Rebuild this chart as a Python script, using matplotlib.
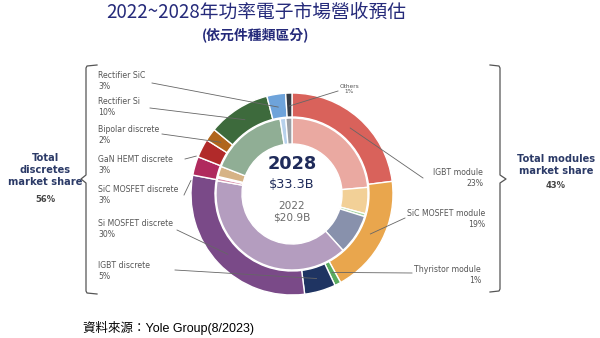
import numpy as np
import matplotlib.pyplot as plt

# 2028 shares (outer ring), clockwise from 12 o'clock
segments = ['IGBT module', 'SiC MOSFET module', 'Thyristor module', 'IGBT discrete',
            'Si MOSFET discrete', 'SiC MOSFET discrete', 'GaN HEMT discrete',
            'Bipolar discrete', 'Rectifier Si', 'Rectifier SiC', 'Others']
share_2028 = [23, 19, 1, 5, 30, 3, 3, 2, 10, 3, 1]
# 2022 shares (inner ring)
share_2022 = [23.6, 5.6, 0.6, 8.5, 39.5, 0.6, 0.3, 2.2, 16.6, 1.2, 1.3]

outer_colors = ['#d9625b', '#e9a64d', '#5aab5e', '#1f3462', '#7a4a88', '#b02a5e',
                '#b12a2a', '#b0661c', '#3d6a3c', '#6ea3da', '#363c44']
inner_colors = ['#eaa9a1', '#f2d097', '#a6d4a2', '#8891ac', '#b49dbf', '#d98ea9',
                '#e2a0a0', '#d6b386', '#90ae95', '#b7d1ec', '#9b9fa4']

total_2028 = '$33.3B'
total_2022 = '$20.9B'
discretes_total = '56%'
modules_total = '43%'

H = 338
cx, cy = 292, H - 194

fig = plt.figure(figsize=(6, 3.38), dpi=100)
ax = fig.add_axes([0, 0, 1, 1])

ax.pie(share_2028, radius=101, center=(cx, cy), startangle=90, counterclock=False,
       colors=outer_colors, wedgeprops=dict(width=24, edgecolor='white', linewidth=1))
ax.pie(share_2022, radius=76, center=(cx, cy), startangle=90, counterclock=False,
       colors=inner_colors, wedgeprops=dict(width=26, edgecolor='white', linewidth=1))

ax.set_xlim(0, 600)
ax.set_ylim(0, H)
ax.set_aspect('equal')
ax.set_axis_off()

# label: text x, y (px, top-down), alignment, line start, end radius, where in wedge (0..1)
labels = {
    'Rectifier SiC':       (98, 81, 'left', (152, 83), 88, 0.5),
    'Rectifier Si':        (98, 107, 'left', (150, 108), 88, 0.5),
    'Bipolar discrete':    (98, 135, 'left', (162, 134), 88, 0.5),
    'GaN HEMT discrete':   (98, 165, 'left', (185, 159), 103, 0.0),
    'SiC MOSFET discrete': (98, 195, 'left', (184, 195), 102, -0.3),
    'Si MOSFET discrete':  (98, 229, 'left', (177, 230), 88, 0.5),
    'IGBT discrete':       (98, 271, 'left', (175, 270), 88, 0.5),
    'IGBT module':         (483, 178, 'right', (423, 178), 88, 0.5),
    'SiC MOSFET module':   (485, 219, 'right', (405, 218), 88, 0.5),
    'Thyristor module':    (481, 275, 'right', (412, 273), 88, 0.5),
    'Others':              (349, 89, 'center', (338, 91), 88, 0.5),
}

starts = np.cumsum(share_2028) - np.array(share_2028)
lab_font = dict(fontsize=5.6, color='#555555', family='DejaVu Sans', linespacing=1.35)
for i, name in enumerate(segments):
    tx, ty, ha, (sx, sy), r, frac = labels[name]
    pos = starts[i] + frac * share_2028[i]
    theta = np.deg2rad(90 - 360 * pos / 100)
    if name == 'Others':
        ax.text(tx, H - ty, 'Others\n%d%%' % share_2028[i], ha=ha, va='center',
                fontsize=4.2, color='#555555', linespacing=1.2)
    else:
        ax.text(tx, H - ty, '%s\n%d%%' % (name, share_2028[i]), ha=ha, va='center', **lab_font)
    ex, ey = cx + r * np.cos(theta), cy + r * np.sin(theta)
    ax.plot([sx, ex], [H - sy, ey], color='#666666', lw=0.6)

# center text
ax.text(cx, H - 164, '2028', ha='center', va='center', fontsize=12.8,
        fontweight='bold', color='#1f2b5a')
ax.text(cx, H - 184, total_2028, ha='center', va='center', fontsize=9.3, color='#1f2b5a')
ax.text(cx, H - 206, '2022', ha='center', va='center', fontsize=7.6, color='#6b6b6b')
ax.text(cx, H - 218, total_2022, ha='center', va='center', fontsize=7.6, color='#6b6b6b')

# brackets
bx = [97, 87, 86, 86, 81, 86, 86, 87, 97]
by = [65, 66, 68, 175, 179, 183, 291, 293, 294]
ax.plot(bx, [H - v for v in by], color='#555555', lw=0.9)
rx = [490, 499, 500, 500, 506, 500, 500, 499, 490]
ry = [65, 66, 68, 175, 179, 183, 289, 291, 292]
ax.plot(rx, [H - v for v in ry], color='#555555', lw=0.9)

navy = '#2b3a67'
ax.text(45, H - 170, 'Total\ndiscretes\nmarket share', ha='center', va='center',
        fontsize=7.1, fontweight='bold', color=navy, linespacing=1.3)
ax.text(45, H - 199, discretes_total, ha='center', va='center', fontsize=6,
        fontweight='bold', color='#444444')
ax.text(556, H - 165, 'Total modules\nmarket share', ha='center', va='center',
        fontsize=7.1, fontweight='bold', color=navy, linespacing=1.3)
ax.text(556, H - 185, modules_total, ha='center', va='center', fontsize=6,
        fontweight='bold', color='#444444')

# titles
ax.text(256, H - 12, '2022~2028年功率電子市場營收預估', ha='center', va='center',
        fontsize=13.5, color='#252a7a', family=['Noto Sans CJK TC', 'DejaVu Sans'])
ax.text(256, H - 35, '(依元件種類區分)', ha='center', va='center', fontsize=10,
        fontweight='bold', color='#252a7a', family=['Noto Sans CJK TC', 'DejaVu Sans'])

ax.text(83, H - 328, '資料來源：Yole Group(8/2023)', ha='left', va='center', fontsize=9,
        color='black', family=['Liberation Sans', 'Noto Sans CJK TC'])

fig.savefig('out.png', dpi=100)
